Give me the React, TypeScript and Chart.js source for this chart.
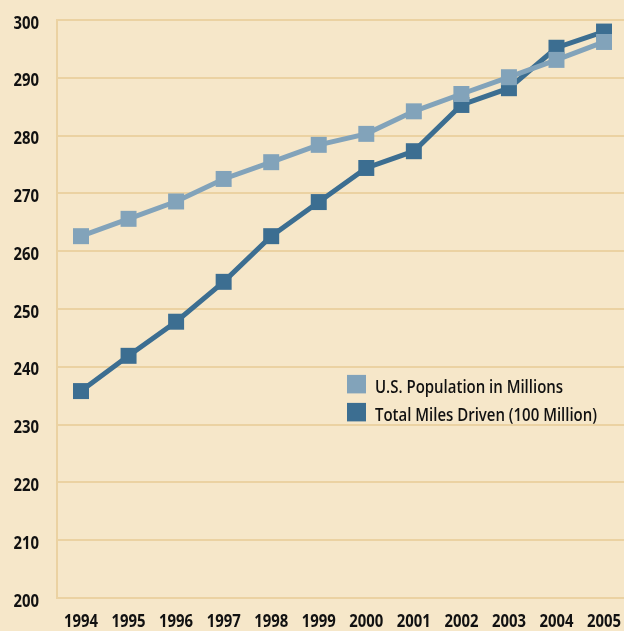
import React, { useEffect, useRef } from "react";
import { Chart, registerables } from "chart.js";

Chart.register(...registerables);

const years = [1994, 1995, 1996, 1997, 1998, 1999, 2000, 2001, 2002, 2003, 2004, 2005];
const population = [262.6, 265.6, 268.6, 272.5, 275.4, 278.4, 280.3, 284.2, 287.2, 290.1, 293.1, 296.2];
const milesDriven = [235.8, 241.9, 247.8, 254.7, 262.6, 268.5, 274.4, 277.3, 285.3, 288.2, 295.2, 298.0];
const yTicks = [200, 210, 220, 230, 240, 250, 260, 270, 280, 290, 300];
const seriesNames = ["U.S. Population in Millions", "Total Miles Driven (100 Million)"];

const BG = "#f6e7c9";
const GRID = "#ebd2a2";
const LIGHT = "#82a3ba";
const DARK = "#3c6e91";
const TEXT = "#111111";
const FONT = "'Open Sans', 'Noto Sans', sans-serif";

const labelPlugin = {
  id: "condensedLabels",
  afterDraw(chart: any) {
    const ctx = chart.ctx as CanvasRenderingContext2D;
    const xs = chart.scales.x;
    const ys = chart.scales.y;
    ctx.save();
    ctx.fillStyle = TEXT;
    ctx.textBaseline = "alphabetic";

    // tick labels
    ctx.font = `700 18px ${FONT}`;
    const sx = 34 / ctx.measureText("1994").width;
    ctx.textAlign = "center";
    years.forEach((yr) => {
      const px = xs.getPixelForValue(yr);
      ctx.save();
      ctx.translate(px, xs.top + 29);
      ctx.scale(sx, 1);
      ctx.fillText(String(yr), 0, 0);
      ctx.restore();
    });
    ctx.textAlign = "right";
    yTicks.forEach((v) => {
      const py = ys.getPixelForValue(v);
      ctx.save();
      ctx.translate(ys.right - 18, py + 8.5);
      ctx.scale(sx, 1);
      ctx.fillText(String(v), 0, 0);
      ctx.restore();
    });

    // legend
    const ca = chart.chartArea;
    ctx.font = `600 18px ${FONT}`;
    const lsx = 222 / ctx.measureText(seriesNames[1]).width;
    const colors = [LIGHT, DARK];
    const lx = ca.left + 290;
    const ly = ys.getPixelForValue(238.6);
    ctx.textAlign = "left";
    seriesNames.forEach((name, i) => {
      const top = ly + i * 28;
      ctx.fillStyle = colors[i];
      ctx.fillRect(lx, top, 19, 18.5);
      ctx.fillStyle = TEXT;
      ctx.save();
      ctx.translate(lx + 28, top + 18.5);
      ctx.scale(lsx, 1);
      ctx.fillText(name, 0, 0);
      ctx.restore();
    });
    ctx.restore();
  },
};

export default function App() {
  const ref = useRef<HTMLCanvasElement | null>(null);

  useEffect(() => {
    if (!ref.current) return;
    const mk = (label: string, values: number[], color: string) => ({
      label,
      data: years.map((y, i) => ({ x: y, y: values[i] })),
      borderColor: color,
      backgroundColor: color,
      borderWidth: 5,
      pointStyle: "rect",
      pointRadius: 11.3,
      pointHoverRadius: 11.3,
      pointBorderWidth: 0,
      pointBackgroundColor: color,
      tension: 0,
    });
    const chart = new Chart(ref.current, {
      type: "line",
      data: {
        datasets: [mk(seriesNames[0], population, LIGHT), mk(seriesNames[1], milesDriven, DARK)] as any,
      },
      plugins: [labelPlugin],
      options: {
        animation: false,
        responsive: false,
        maintainAspectRatio: false,
        events: [],
        layout: { autoPadding: false, padding: { top: 20, left: 0, right: 0, bottom: 0 } },
        plugins: {
          legend: { display: false },
          tooltip: { enabled: false },
        },
        scales: {
          x: {
            type: "linear",
            min: 1993.495,
            max: 2005.42,
            afterBuildTicks: (s: any) => {
              s.ticks = years.map((v) => ({ value: v }));
            },
            afterFit: (s: any) => {
              s.height = 33;
              s.paddingLeft = 0;
              s.paddingRight = 0;
            },
            grid: { display: false, drawTicks: false },
            border: { display: false },
            ticks: { display: false },
          },
          y: {
            min: 200,
            max: 300,
            afterBuildTicks: (s: any) => {
              s.ticks = yTicks.map((v) => ({ value: v }));
            },
            afterFit: (s: any) => {
              s.width = 57;
              s.paddingTop = 0;
              s.paddingBottom = 0;
            },
            grid: { color: GRID, lineWidth: 2, drawTicks: false },
            border: { display: true, color: GRID, width: 2 },
            ticks: { display: false },
          },
        },
      },
    });
    return () => chart.destroy();
  }, []);

  return (
    <div style={{ position: "absolute", left: 0, top: 0, width: 624, height: 631, background: BG, overflow: "hidden" }}>
      <canvas ref={ref} width={624} height={631} style={{ display: "block" }} />
    </div>
  );
}
